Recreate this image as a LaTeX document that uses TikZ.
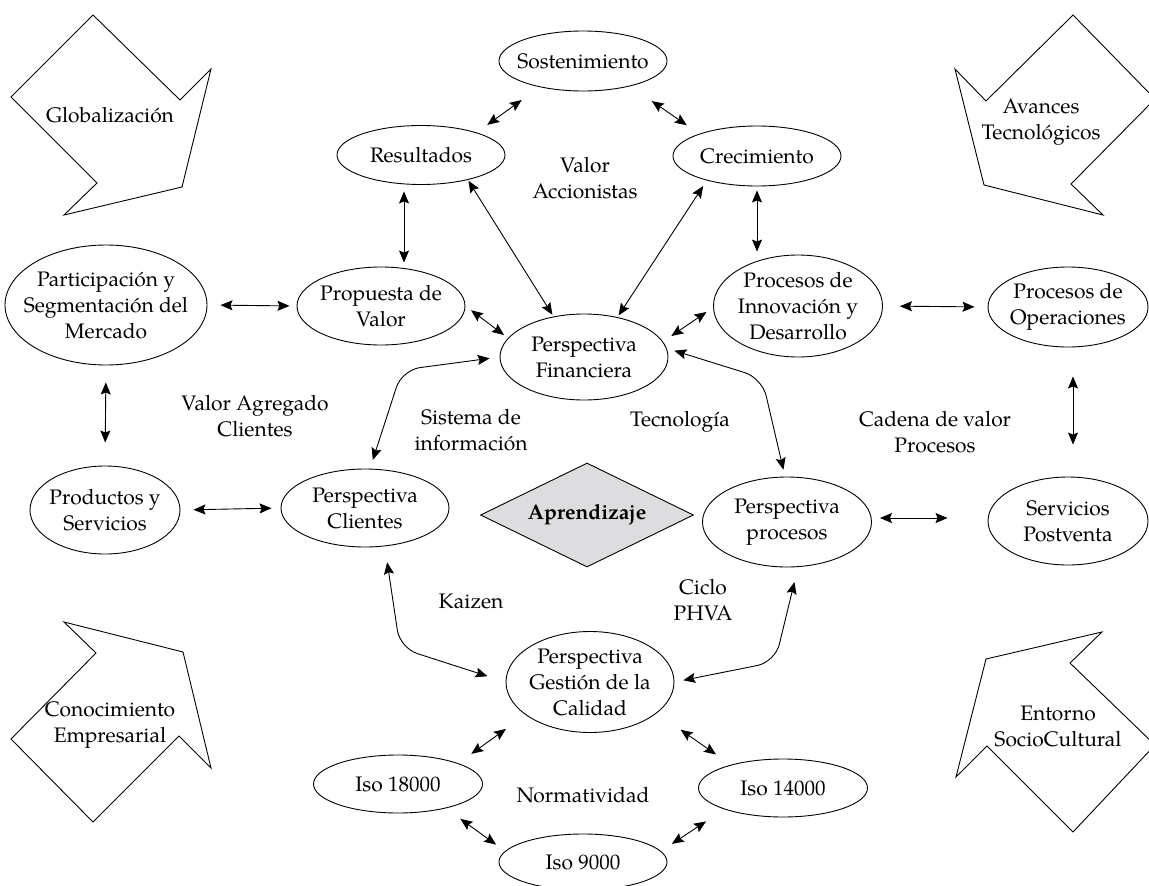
\documentclass[tikz,border=0pt]{standalone}
\usepackage{fontspec}
\setmainfont{texgyrepagella}[Extension=.otf, UprightFont=*-regular, BoldFont=*-bold, ItalicFont=*-italic, BoldItalicFont=*-bolditalic]
\usetikzlibrary{shapes.geometric,arrows.meta}
\definecolor{aprgris}{RGB}{221,221,223}
\newcommand{\diatam}{\fontsize{21}{26}\selectfont}

\begin{document}
\begin{tikzpicture}[x=1pt,y=-1pt,line width=0.9pt,
  >={Stealth[length=12pt,width=10pt,inset=2pt]},
  every node/.style={font=\diatam},
  oval/.style={ellipse,draw,inner sep=-40pt,align=center,minimum width=168},
  rombo/.style={diamond,draw,fill=aprgris,inner sep=-40pt,minimum width=213,minimum height=104,font=\diatam\bfseries},
  lbl/.style={align=center,inner sep=0pt},
  link/.style={<->}]
\useasboundingbox (0,0) rectangle (1149,886);
\draw (93,15) -- (180,100) -- (211,69) -- (182,187) -- (64,215) -- (97,183) -- (11,97) -- cycle;
\draw (1073,15) -- (986,101) -- (955,69) -- (984,185) -- (1103,215) -- (1071,184) -- (1155,99) -- cycle;
\draw (64,622) -- (96,653) -- (11,739) -- (93,822) -- (179,736) -- (211,768) -- (183,652) -- cycle;
\draw (1102,632) -- (1070,663) -- (1155,745) -- (1073,832) -- (987,746) -- (956,777) -- (986,659) -- cycle;
\node[lbl] (glob) at (110,115) {Globalizaci\'on};
\node[lbl] (avan) at (1041,122) {Avances\\Tecnol\'ogicos};
\node[lbl] (cono) at (110,725) {Conocimiento\\Empresarial};
\node[lbl] (ento) at (1058,726) {Entorno\\SocioCultural};

\node[oval,minimum height=60] (sost) at (583,61) {Sostenimiento};
\node[oval,minimum height=59] (res) at (421,155) {Resultados};
\node[oval,minimum height=60] (crec) at (757,156) {Crecimiento};
\node[lbl] (valacc) at (585,178) {Valor\\Accionistas};
\node[oval,minimum width=202,minimum height=120] (part) at (106,305) {Participaci\'on y\\Segmentaci\'on del\\Mercado};
\node[oval,minimum height=78] (prop) at (381,306) {Propuesta de\\Valor};
\node[oval,minimum height=86] (fin) at (584,357) {Perspectiva\\Financiera};
\node[oval,minimum width=169,minimum height=102] (innov) at (798,306) {Procesos de\\Innovaci\'on y\\Desarrollo};
\node[oval,minimum width=160,minimum height=80] (oper) at (1068,307) {Procesos de\\Operaciones};
\node[oval,minimum width=150,minimum height=88] (prod) at (105,510) {Productos y\\Servicios};
\node[oval,minimum height=78] (cli) at (365,508) {Perspectiva\\Clientes};
\node[rombo] (apr) at (587,515) {Aprendizaje};
\node[oval,minimum width=169,minimum height=90] (proc) at (787,522) {Perspectiva\\procesos};
\node[oval,minimum width=160,minimum height=88] (post) at (1068,521) {Servicios\\Postventa};
\node[oval,minimum height=101] (gest) at (590,682) {Perspectiva\\Gesti\'on de la\\Calidad};
\node[oval,minimum width=169,minimum height=58] (iso18) at (398,784) {Iso 18000};
\node[oval,minimum width=169,minimum height=58] (iso14) at (783,788) {Iso 14000};
\node[oval,minimum height=56] (iso9) at (583,862) {Iso 9000};

\node[lbl] (valagr) at (255,416) {Valor Agregado\\Clientes};
\node[lbl] (sisinf) at (471,430) {Sistema de\\informaci\'on};
\node[lbl] (tec) at (680,422) {Tecnolog\'ia};
\node[lbl] (cadena) at (935,432) {Cadena de valor\\Procesos};
\node[lbl] (kaizen) at (471,601) {Kaizen};
\node[lbl] (ciclo) at (703,600) {Ciclo\\PHVA};
\node[lbl] (norm) at (583,795) {Normatividad};

\draw[link,shorten <=13,shorten >=22] (res.22) -- (sost.211);
\draw[link,shorten <=26,shorten >=15] (sost.332) -- (crec.159);
\draw[link,shorten <=6.5,shorten >=4] ([xshift=-17]res.south) -- ([xshift=23]prop.north);
\draw[link,shorten <=1,shorten >=2] (res.332) -- (fin.127);
\draw[link,shorten <=6.6,shorten >=2] (crec.206) -- (fin.50);
\draw[link,shorten <=4,shorten >=3] (crec.south) -- ([xshift=-41]innov.north);
\draw[link,shorten <=13,shorten >=7] (part.east) -- (prop.west);
\draw[link,shorten <=7,shorten >=5] (prop.0) -- (fin.166);
\draw[link,shorten <=10,shorten >=8] (fin.11) -- (innov.181);
\draw[link,shorten <=17,shorten >=13] (innov.east) -- (oper.west);
\draw[link,shorten <=17,shorten >=23] (part.south) -- (prod.north);
\draw[link,shorten <=29,shorten >=32] ([xshift=5]oper.south) -- ([xshift=5]post.north);
\draw[link,shorten <=13,shorten >=9] (prod.east) -- (cli.west);
\draw[link,shorten <=8,shorten >=40] ([yshift=4]proc.east) -- ([yshift=3]post.west);
\draw[link,shorten <=24,shorten >=16] (gest.207) -- (iso18.19);
\draw[link,shorten <=29,shorten >=18] (gest.335) -- (iso14.156);
\draw[link,shorten <=18,shorten >=11] (iso18.333) -- (iso9.172);
\draw[link,shorten <=22,shorten >=13] (iso14.200) -- (iso9.8);

\coordinate (k1) at (402,370);
\coordinate (k2) at (762,378);
\coordinate (k3) at (400,648);
\coordinate (k4) at (775,662);
\draw[link,rounded corners=18,shorten <=9,shorten >=10] ([xshift=5]cli.north) -- (k1) -- (fin.west);
\draw[link,rounded corners=18,shorten <=8,shorten >=7] (fin.6) -- (k2) -- ([xshift=-2]proc.north);
\draw[link,rounded corners=18,shorten <=15,shorten >=19] ([xshift=20]cli.south) -- (k3) -- (gest.west);
\draw[link,rounded corners=18,shorten <=15,shorten >=9] ([xshift=11]proc.south) -- (k4) -- (gest.east);
\end{tikzpicture}
\end{document}
